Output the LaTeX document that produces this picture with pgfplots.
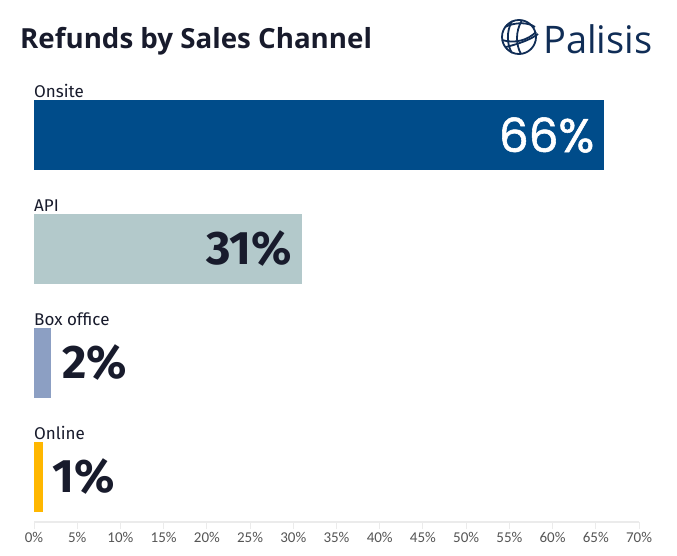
\documentclass[border=0pt]{standalone}
\usepackage{pgfplots}
\pgfplotsset{compat=1.18}
\usepackage{fontspec}
\setmainfont{Fira Sans}
\newfontfamily\popfont{Poppins}[FakeBold=1.2]
\newfontfamily\logofont{Open Sans}
\newfontfamily\titlefont{Open Sans}
\newfontfamily\tickfont{Carlito}
\definecolor{onsite}{RGB}{0,76,138}
\definecolor{api}{RGB}{179,201,203}
\definecolor{boxo}{RGB}{140,159,195}
\definecolor{online}{RGB}{255,183,0}
\definecolor{darktxt}{RGB}{24,27,44}
\definecolor{tickgray}{RGB}{85,85,85}
\definecolor{axisgray}{RGB}{235,235,235}
\definecolor{logoc}{RGB}{16,45,86}
\begin{document}
\begin{tikzpicture}
\path[use as bounding box, fill=white] (0,0) rectangle (677bp,-556bp);
\node[anchor=base west, inner sep=0, text=darktxt, font=\titlefont\fontsize{27.7bp}{32bp}\selectfont\bfseries] at (20bp,-48bp) {Refunds by Sales Channel};
% logo
\node[anchor=base west, inner sep=0, text=logoc, font=\logofont\fontsize{38bp}{40bp}\selectfont] at (543bp,-53bp) {Palisis};
\begin{scope}[draw=logoc, line width=1.8bp]
\draw (519bp,-37bp) circle (17bp);
\draw (505bp,-27bp) .. controls (515bp,-22bp) and (528bp,-22bp) .. (535bp,-27bp);
\draw (502bp,-40bp) .. controls (515bp,-44bp) and (528bp,-40bp) .. (536bp,-32bp);
\draw (512bp,-21bp) .. controls (506bp,-32bp) and (507bp,-45bp) .. (512bp,-53bp);
\draw (522bp,-20bp) .. controls (515bp,-32bp) and (516bp,-45bp) .. (521bp,-54bp);
\draw (506bp,-47bp) .. controls (518bp,-44bp) and (530bp,-40bp) .. (538bp,-34bp);
\end{scope}
\begin{axis}[
  at={(34bp,-522bp)}, anchor=south west,
  scale only axis, width=605bp, height=444bp,
  xmin=0, xmax=70, ymin=-0.395, ymax=3.5,
  clip=false,
  axis y line=none, axis x line*=bottom,
  x axis line style={draw=axisgray, line width=2bp},
  xtick={0,5,...,70},
  xticklabels={0\%,5\%,10\%,15\%,20\%,25\%,30\%,35\%,40\%,45\%,50\%,55\%,60\%,65\%,70\%},
  xticklabel style={text=tickgray, font=\tickfont\fontsize{15bp}{17bp}\selectfont},
  tick align=outside, major tick length=7bp,
  xtick style={draw=axisgray, line width=1bp},
  ytick=\empty,
  xbar, bar width=70bp, bar shift=0pt,
  nodes near coords={\pgfmathprintnumber[assume math mode=true]{\pgfplotspointmeta}\%},
]
\addplot[fill=onsite, draw=none,
  nodes near coords style={anchor=east, xshift=-10bp, inner sep=0, text=white, font=\popfont\fontsize{47bp}{50bp}\selectfont}]
  coordinates {(66,3)};
\addplot[fill=api, draw=none,
  nodes near coords style={anchor=east, xshift=-10bp, inner sep=0, text=darktxt, font=\fontsize{47bp}{50bp}\selectfont\bfseries}]
  coordinates {(31,2)};
\addplot[fill=boxo, draw=none,
  nodes near coords style={anchor=west, xshift=11bp, inner sep=0, text=darktxt, font=\fontsize{47bp}{50bp}\selectfont\bfseries}]
  coordinates {(2,1)};
\addplot[fill=online, draw=none,
  nodes near coords style={anchor=west, xshift=10bp, inner sep=0, text=darktxt, font=\fontsize{47bp}{50bp}\selectfont\bfseries}]
  coordinates {(1,0)};
\node[anchor=base west, inner sep=0, text=darktxt, font=\fontsize{17bp}{19bp}\selectfont] at (axis cs:0,3.333) {Onsite};
\node[anchor=base west, inner sep=0, text=darktxt, font=\fontsize{17bp}{19bp}\selectfont] at (axis cs:0,2.333) {API};
\node[anchor=base west, inner sep=0, text=darktxt, font=\fontsize{17bp}{19bp}\selectfont] at (axis cs:0,1.333) {Box office};
\node[anchor=base west, inner sep=0, text=darktxt, font=\fontsize{17bp}{19bp}\selectfont] at (axis cs:0,0.333) {Online};
\end{axis}
\end{tikzpicture}
\end{document}
